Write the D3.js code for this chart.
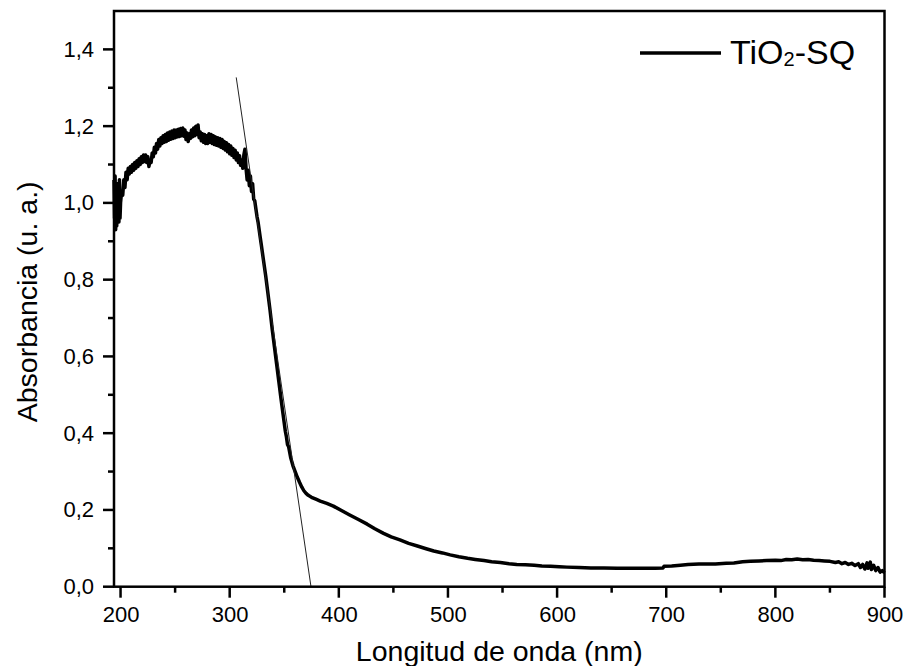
<!DOCTYPE html>
<html>
<head>
<meta charset="utf-8">
<script src="https://cdn.jsdelivr.net/npm/d3@7"></script>
<style>
  body { margin: 0; background: #fff; }
  text { font-family: "Liberation Sans", Arial, sans-serif; }
</style>
</head>
<body>
<div id="wrapper"></div>
<script>
// data
const wavelength = [
  194, 194.5, 195, 195.5, 196, 196.5, 197, 197.5, 198, 198.5, 199, 199.5,
  200, 201, 202, 203, 204, 205, 206, 207, 208, 209, 210, 211, 212, 213, 214,
  215, 216, 217, 218, 219, 220, 221, 222, 223, 224, 225, 226, 227, 228, 229,
  230, 231, 232, 233, 234, 235, 236, 237, 238, 239, 240, 241, 242, 243, 244,
  245, 246, 247, 248, 249, 250, 251, 252, 253, 254, 255, 256, 257, 258, 259,
  260, 261, 262, 263, 264, 265, 266, 267, 268, 269, 270, 271, 272, 273, 274,
  275, 276, 277, 278, 279, 280, 281, 282, 283, 284, 285, 286, 287, 288, 289,
  290, 291, 292, 293, 294, 295, 296, 297, 298, 299, 300, 301, 302, 303, 304,
  305, 306, 307, 308, 309, 310, 311, 312, 313, 314, 315, 316, 317, 318, 319,
  320, 321, 322, 323, 324, 325, 326, 327, 328, 329, 330, 331, 333, 335, 337,
  339, 341, 343, 345, 347, 349, 351, 352, 353, 354, 356, 358, 360, 362, 364,
  366, 368, 370, 372, 375, 379, 383, 389, 395, 402, 410, 418, 426, 433, 441,
  448, 456, 464, 472, 480, 487, 495, 502, 510, 518, 525, 533, 540, 548, 556,
  563, 571, 579, 586, 594, 602, 609, 620, 631, 643, 655, 668, 680, 690, 697,
  698, 705, 713, 720, 730, 745, 755, 762, 770, 777, 785, 792, 800, 805, 810,
  815, 820, 825, 830, 835, 840, 845, 850, 855, 858, 861, 864, 867, 870, 873,
  876, 878, 880, 882, 884, 885, 887, 888, 890, 892, 894, 896, 898, 900
]
const absorbance = [
  1.06, 0.96, 1.07, 0.93, 1.02, 0.94, 1.05, 0.97, 1.04, 0.95, 1.06, 0.96,
  1.00, 1.03, 1.02, 1.06, 1.04, 1.08, 1.06, 1.09, 1.075, 1.095, 1.08, 1.10, 1.085, 1.105, 1.09,
  1.11, 1.095, 1.115, 1.10, 1.12, 1.105, 1.125, 1.108, 1.125, 1.105, 1.12, 1.095, 1.11, 1.105, 1.13,
  1.12, 1.145, 1.13, 1.155, 1.14, 1.165, 1.148, 1.17, 1.155, 1.175, 1.158, 1.178, 1.16, 1.182, 1.163,
  1.185, 1.166, 1.187, 1.168, 1.19, 1.17, 1.19, 1.172, 1.192, 1.173, 1.194, 1.175, 1.195, 1.174, 1.19,
  1.165, 1.182, 1.16, 1.18, 1.168, 1.19, 1.172, 1.195, 1.175, 1.20, 1.178, 1.203, 1.17, 1.185, 1.162,
  1.18, 1.158, 1.178, 1.155, 1.175, 1.155, 1.18, 1.158, 1.178, 1.155, 1.175, 1.152, 1.172, 1.15, 1.17,
  1.148, 1.168, 1.145, 1.165, 1.142, 1.16, 1.138, 1.157, 1.133, 1.152, 1.128, 1.148, 1.124, 1.142, 1.118,
  1.137, 1.112, 1.13, 1.105, 1.123, 1.098, 1.112, 1.09, 1.125, 1.14, 1.09, 1.06, 1.085, 1.045, 1.07,
  1.03, 1.05, 1.01, 1.005, 0.985, 0.965, 0.95, 0.93, 0.91, 0.89, 0.87, 0.85, 0.81, 0.765, 0.72,
  0.67, 0.625, 0.58, 0.535, 0.49, 0.447, 0.405, 0.39, 0.37, 0.365, 0.335, 0.315, 0.30, 0.285, 0.272,
  0.26, 0.25, 0.243, 0.238, 0.233, 0.228, 0.223, 0.217, 0.21, 0.199, 0.187, 0.175, 0.163, 0.151, 0.139,
  0.13, 0.122, 0.113, 0.106, 0.099, 0.093, 0.088, 0.083, 0.078, 0.074, 0.071, 0.068, 0.065, 0.063, 0.060,
  0.058, 0.057, 0.056, 0.054, 0.053, 0.052, 0.051, 0.050, 0.049, 0.0485, 0.048, 0.048, 0.048, 0.048, 0.049,
  0.053, 0.054, 0.056, 0.058, 0.059, 0.059, 0.061, 0.062, 0.065, 0.066, 0.067, 0.068, 0.069, 0.068, 0.071,
  0.070, 0.072, 0.070, 0.071, 0.069, 0.068, 0.067, 0.066, 0.063, 0.065, 0.060, 0.063, 0.058, 0.061, 0.055,
  0.060, 0.050, 0.058, 0.046, 0.062, 0.048, 0.064, 0.045, 0.056, 0.042, 0.050, 0.038, 0.042, 0.036
]
// tangent line drawn over the absorption edge
const tangentX = [306, 374.5]
const tangentY = [1.327, 0]

const xTicks = [200, 300, 400, 500, 600, 700, 800, 900]
const xMinorTicks = [250, 350, 450, 550, 650, 750, 850]
const yTicks = [0, 0.2, 0.4, 0.6, 0.8, 1.0, 1.2, 1.4]
const yMinorTicks = [0.1, 0.3, 0.5, 0.7, 0.9, 1.1, 1.3]
const seriesName = "TiO"
const seriesSub = "2"
const seriesSuffix = "-SQ"

function drawChart() {
  const dataset = wavelength.map((w, i) => ({ x: w, y: absorbance[i] }))

  //dimensions
  let dimensions = {
    width: 905,
    height: 666,
    margin: { top: 11, right: 20.5, bottom: 79.3, left: 114 }
  }
  dimensions.boundedWidth = dimensions.width - dimensions.margin.left - dimensions.margin.right
  dimensions.boundedHeight = dimensions.height - dimensions.margin.top - dimensions.margin.bottom

  const svg = d3.select("#wrapper")
    .append("svg")
    .attr("width", dimensions.width)
    .attr("height", dimensions.height)
  const bounds = svg.append("g")
    .attr("transform", `translate(${dimensions.margin.left},${dimensions.margin.top})`)

  //scales, in page coordinates
  const xScale = d3.scaleLinear()
    .domain([194, 900])
    .range([0, dimensions.boundedWidth])
  const yScale = d3.scaleLinear()
    .domain([0, 1.5])
    .range([dimensions.boundedHeight, 0])
  const xPage = v => dimensions.margin.left + xScale(v)
  const yPage = v => dimensions.margin.top + yScale(v)

  const locale = d3.formatLocale({ decimal: ",", thousands: ".", grouping: [3], currency: ["", ""] })
  const formatY = locale.format(".1f")

  //data line
  const lineGen = d3.line()
    .x(d => xScale(d.x))
    .y(d => yScale(d.y))
  bounds.append("path")
    .datum(dataset)
    .attr("d", lineGen)
    .attr("fill", "none")
    .attr("stroke", "#000")
    .attr("stroke-width", 3.5)
    .attr("stroke-linejoin", "round")

  //tangent
  bounds.append("line")
    .attr("x1", xScale(tangentX[0]))
    .attr("y1", yScale(tangentY[0]))
    .attr("x2", xScale(tangentX[1]))
    .attr("y2", yScale(tangentY[1]))
    .attr("stroke", "#222")
    .attr("stroke-width", 1)

  //axes labels
  const xAxis = bounds.append("g")
    .attr("transform", `translate(0,${dimensions.boundedHeight})`)
    .call(d3.axisBottom(xScale).tickValues(xTicks).tickSize(0).tickPadding(19))
  const yAxis = bounds.append("g")
    .call(d3.axisLeft(yScale).tickValues(yTicks).tickSize(0).tickPadding(20).tickFormat(formatY))

  ;[xAxis, yAxis].forEach(g => {
    g.select(".domain").remove()
    g.selectAll(".tick text")
      .attr("fill", "#000")
      .style("font-size", "22px")
      .style("font-family", "'Liberation Sans', Arial, sans-serif")
  })
  xAxis.selectAll(".tick text").attr("dy", "0.76em")

  //frame
  bounds.append("rect")
    .attr("x", 0)
    .attr("y", 0)
    .attr("width", dimensions.boundedWidth)
    .attr("height", dimensions.boundedHeight)
    .attr("fill", "none")
    .attr("stroke", "#000")
    .attr("stroke-width", 2.5)

  //axis titles
  svg.append("text")
    .attr("x", dimensions.margin.left + dimensions.boundedWidth / 2)
    .attr("y", 661)
    .attr("text-anchor", "middle")
    .style("font-size", "28.5px")
    .text("Longitud de onda (nm)")
  svg.append("text")
    .attr("transform", `translate(37,${dimensions.margin.top + dimensions.boundedHeight / 2 + 3}) rotate(-90)`)
    .attr("text-anchor", "middle")
    .style("font-size", "28.5px")
    .text("Absorbancia (u. a.)")

  //legend
  const legend = svg.append("g")
  legend.append("line")
    .attr("x1", 640)
    .attr("x2", 721)
    .attr("y1", 53)
    .attr("y2", 53)
    .attr("stroke", "#000")
    .attr("stroke-width", 3.5)
  const legendText = legend.append("text")
    .attr("x", 730)
    .attr("y", 64)
    .style("font-size", "34px")
  legendText.append("tspan").text(seriesName)
  legendText.append("tspan").attr("dy", 2).style("font-size", "20px").text(seriesSub)
  legendText.append("tspan").attr("dy", -2).text(seriesSuffix)

  //tick marks, drawn last in page coordinates
  const base = yPage(0)
  const left = xPage(194)
  const xTickData = xTicks.map(v => ({ v, len: 11 })).concat(xMinorTicks.map(v => ({ v, len: 6 })))
  const yTickData = yTicks.map(v => ({ v, len: 11 })).concat(yMinorTicks.map(v => ({ v, len: 6 })))
  svg.selectAll("line.xtick")
    .data(xTickData)
    .join("line")
    .attr("class", "xtick")
    .attr("x1", d => xPage(d.v))
    .attr("x2", d => xPage(d.v))
    .attr("y1", base)
    .attr("y2", d => base + d.len)
    .attr("stroke", "#000")
    .attr("stroke-width", 2.5)
  svg.selectAll("line.ytick")
    .data(yTickData)
    .join("line")
    .attr("class", "ytick")
    .attr("x1", left)
    .attr("x2", d => left - d.len)
    .attr("y1", d => yPage(d.v))
    .attr("y2", d => yPage(d.v))
    .attr("stroke", "#000")
    .attr("stroke-width", 2.5)
}
drawChart()
</script>
</body>
</html>
